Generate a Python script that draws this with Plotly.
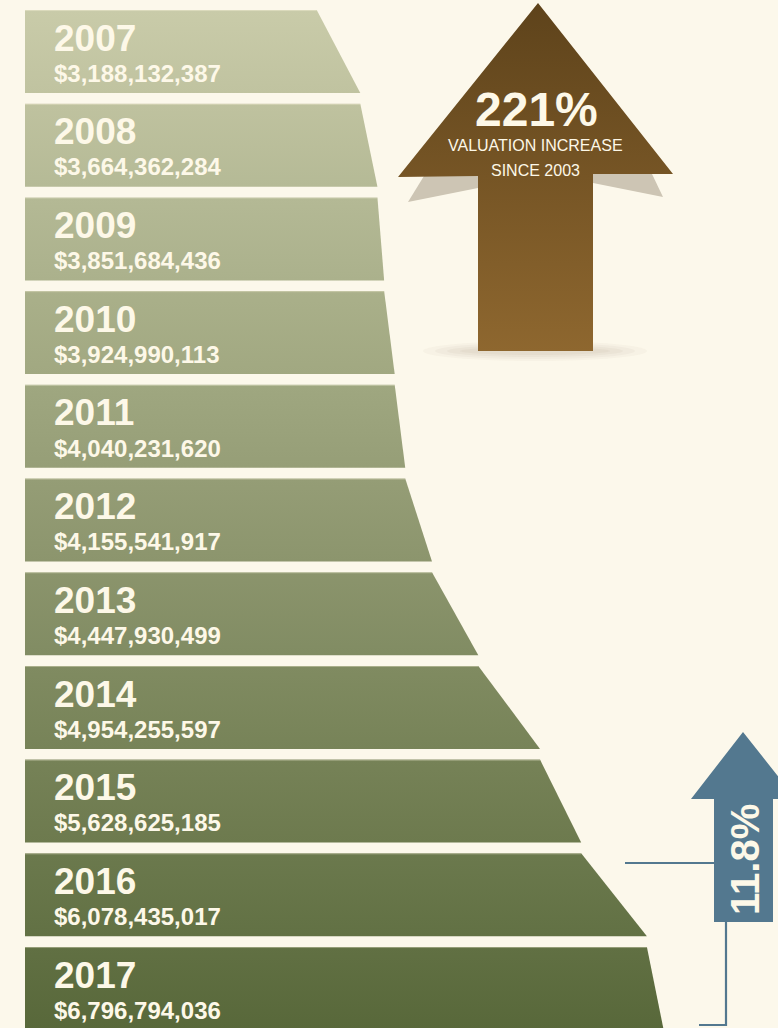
import plotly.graph_objects as go

# Assessed valuation by year
years = [2007, 2008, 2009, 2010, 2011, 2012, 2013, 2014, 2015, 2016, 2017]
values = [3188132387, 3664362284, 3851684436, 3924990113, 4040231620,
          4155541917, 4447930499, 4954255597, 5628625185, 6078435017,
          6796794036]
# width of the funnel where the last slice runs off the bottom edge
funnel_end = 6.98e9

headline_pct = "221%"
headline_lines = ["VALUATION INCREASE", "SINCE 2003"]
last_step_pct = "11.8%"

W, H = 778, 1028
BG = "#fcf8eb"
CREAM = "#fdf8e8"
TOP_RGB = (201, 203, 169)
BOT_RGB = (88, 104, 58)
BLUE = "#53788f"
FONT = "Liberation Sans, Arial, sans-serif"

# layout of the rows (row index units on the y axis)
ROW_PX = 93.7
TOP_PAD = 10
SLICE_H = 83 / ROW_PX
PX_PER_DOLLAR = 91.5e-9
LEFT_PX = 25


def mix(t):
    t = min(max(t, 0), 1)
    c = [round(a + (b - a) * t) for a, b in zip(TOP_RGB, BOT_RGB)]
    return "rgb(%d,%d,%d)" % tuple(c)


def row_to_px(y):
    return TOP_PAD + y * ROW_PX


fig = go.Figure()

# funnel slices: each slice runs from its own value at the top to the
# following value at the bottom
edges = values[1:] + [funnel_end]
for i, (yr, v, nxt) in enumerate(zip(years, values, edges)):
    y0, y1 = i, i + SLICE_H
    c0 = mix((row_to_px(y0) - TOP_PAD) / (H - TOP_PAD))
    c1 = mix((row_to_px(y1) - TOP_PAD) / (H - TOP_PAD))
    fig.add_trace(go.Scatter(
        x=[0, v, nxt, 0, 0], y=[y0, y0, y1, y1, y0],
        mode="lines", line=dict(width=0), fill="toself",
        fillgradient=dict(type="vertical", colorscale=[[0, c0], [1, c1]],
                          start=y0, stop=y1),
        hoverinfo="skip", showlegend=False,
    ))
    # thin highlight along the top of each slice
    fig.add_trace(go.Scatter(
        x=[0, v], y=[y0 + 0.006, y0 + 0.006], mode="lines",
        line=dict(width=1, color="rgba(255,250,225,0.35)"),
        hoverinfo="skip", showlegend=False,
    ))

annotations = []
for i, (yr, v) in enumerate(zip(years, values)):
    annotations.append(dict(
        x=52 / W, xref="paper", y=i + 0.30, yref="y", text=f"<b>{yr}</b>",
        showarrow=False, xanchor="left", yanchor="middle",
        font=dict(family=FONT, size=37, color=CREAM),
    ))
    annotations.append(dict(
        x=52 / W, xref="paper", y=i + 0.675, yref="y", text=f"<b>${v:,}</b>",
        showarrow=False, xanchor="left", yanchor="middle",
        font=dict(family=FONT, size=24, color=CREAM),
    ))

# ---- overlay decorations in pixel space (x2 / y2) ----
def deco(xs, ys, color=None, grad=None, opacity=1.0):
    kw = dict(x=xs, y=ys, mode="lines", line=dict(width=0), fill="toself",
              xaxis="x2", yaxis="y2", hoverinfo="skip", showlegend=False,
              opacity=opacity)
    if grad is not None:
        kw["fillgradient"] = grad
    else:
        kw["fillcolor"] = color
    fig.add_trace(go.Scatter(**kw))


# soft shadow under the brown arrow
for rx, ry, a in [(112, 10, 0.05), (100, 8, 0.06), (88, 6, 0.07), (75, 4, 0.07)]:
    fig.add_shape(type="circle", xref="x2", yref="y2",
                  x0=535 - rx, x1=535 + rx, y0=351 - ry, y1=351 + ry,
                  fillcolor=f"rgba(150,140,115,{a})", line=dict(width=0),
                  layer="below")

# folded-wing shadows behind the arrow head
deco([408, 424, 478, 478, 408], [202, 176, 176, 188, 202], color="#cdc5b4")
deco([593, 593, 652, 663, 593], [183, 174, 174, 197, 183], color="#cdc5b4")

# brown arrow
deco([538, 673, 593, 593, 478, 478, 398, 538],
     [3, 174, 174, 351, 351, 176, 177, 3],
     grad=dict(type="vertical", colorscale=[[0, "#5e431b"], [1, "#8e672f"]],
               start=3, stop=351))

# blue bracket for the latest step
line_kw = dict(mode="lines", line=dict(width=2.2, color=BLUE), xaxis="x2",
               yaxis="y2", hoverinfo="skip", showlegend=False)
fig.add_trace(go.Scatter(x=[625, 716], y=[863, 863], **line_kw))
fig.add_trace(go.Scatter(x=[726, 726, 699], y=[920, 1025, 1025], **line_kw))
deco([743, 796, 773, 773, 714, 714, 691, 743],
     [732, 799, 799, 922, 922, 799, 799, 732], color=BLUE)

annotations += [
    dict(x=536, y=109, xref="x2", yref="y2", text=f"<b>{headline_pct}</b>",
         showarrow=False, xanchor="center", yanchor="middle",
         font=dict(family=FONT, size=48, color=CREAM)),
    dict(x=535, y=145, xref="x2", yref="y2", text=headline_lines[0],
         showarrow=False, xanchor="center", yanchor="middle",
         font=dict(family=FONT, size=16, color=CREAM)),
    dict(x=535, y=170, xref="x2", yref="y2", text=headline_lines[1],
         showarrow=False, xanchor="center", yanchor="middle",
         font=dict(family=FONT, size=16, color=CREAM)),
    dict(x=745, y=860, xref="x2", yref="y2", text=f"<b>{last_step_pct}</b>",
         showarrow=False, xanchor="center", yanchor="middle", textangle=-90,
         font=dict(family=FONT, size=40, color=CREAM)),
]

x_lo = -LEFT_PX / (PX_PER_DOLLAR)
x_hi = (W - LEFT_PX) / (PX_PER_DOLLAR)
y_top = -TOP_PAD / ROW_PX
y_bot = (H - TOP_PAD) / ROW_PX

hidden = dict(showgrid=False, zeroline=False, showticklabels=False,
              ticks="", showline=False, fixedrange=True)
fig.update_layout(
    width=W, height=H, margin=dict(l=0, r=0, t=0, b=0),
    paper_bgcolor=BG, plot_bgcolor=BG,
    xaxis=dict(range=[x_lo, x_hi], domain=[0, 1], **hidden),
    yaxis=dict(range=[y_bot, y_top], domain=[0, 1], **hidden),
    xaxis2=dict(range=[0, W], domain=[0, 1], overlaying="x", anchor="y2",
                **hidden),
    yaxis2=dict(range=[H, 0], domain=[0, 1], overlaying="y", anchor="x2",
                **hidden),
    annotations=annotations,
    showlegend=False,
)

fig.write_html("out.html")
